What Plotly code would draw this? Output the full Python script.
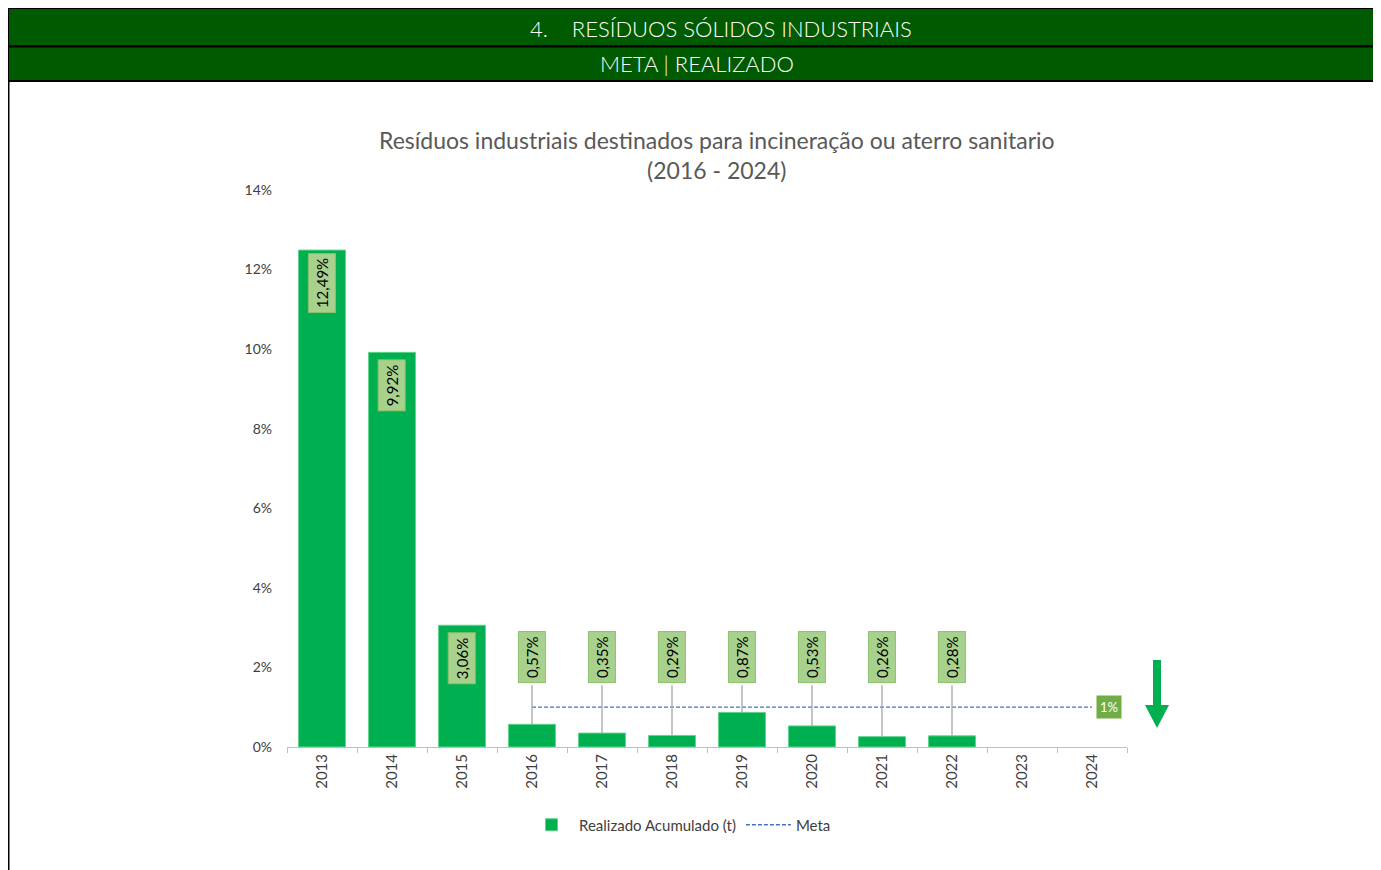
import plotly.graph_objects as go

years = ["2013", "2014", "2015", "2016", "2017", "2018", "2019", "2020", "2021", "2022", "2023", "2024"]
realizado = [0.1249, 0.0992, 0.0306, 0.0057, 0.0035, 0.0029, 0.0087, 0.0053, 0.0026, 0.0028, None, None]
meta_years = ["2016", "2017", "2018", "2019", "2020", "2021", "2022", "2023", "2024"]
meta = [0.01] * len(meta_years)

header1 = "4.    RESÍDUOS SÓLIDOS INDUSTRIAIS"
header2 = "META | REALIZADO"
title = "Resíduos industriais destinados para incineração ou aterro sanitario<br>(2016 - 2024)"

FONT = "Lato"
OFF = 8  # page body margin
W, H = 1381 - OFF, 870 - OFF
L, R, T, B = 287, 1127, 190, 747  # plot area in reference pixels


def px(x):
    return (x - L) / (R - L)


def py(y):
    return (B - y) / (B - T)


fig = go.Figure()
fig.add_trace(go.Bar(
    x=years, y=realizado, name="Realizado Acumulado (t)",
    marker=dict(color="#00B050", line=dict(color="#5FD38A", width=1)),
    width=0.67,
))
fig.add_trace(go.Scatter(
    x=meta_years, y=meta, name="Meta", mode="lines",
    line=dict(color="#4472C4", width=1.3, dash="4px,2px"),
))

annotations = []
shapes = []
label_y_outside = 0.0226
leader_top = 0.0155
for i, v in enumerate(realizado):
    if v is None:
        continue
    txt = f"{v*100:.2f}%".replace(".", ",")
    common = dict(xref="x", yref="y", x=i, text=txt, textangle=-90, showarrow=False,
                  xanchor="center", yanchor="middle",
                  font=dict(family=FONT, size=15, color="#000000"),
                  bgcolor="#A9D18E", bordercolor="#8CC06A", borderwidth=1, borderpad=4)
    if v >= 0.02:
        annotations.append(dict(y=v, yshift=-33, **common))
    else:
        shapes.append(dict(type="line", xref="x", yref="y", x0=i, x1=i,
                           y0=v, y1=leader_top, line=dict(color="#A6A6A6", width=1.3)))
        annotations.append(dict(y=label_y_outside, **common))

# meta label
annotations.append(dict(
    x=years.index(meta_years[-1]), y=meta[-1], xref="x", yref="y", text="1%", showarrow=False,
    xanchor="left", yanchor="middle", xshift=4, font=dict(family=FONT, size=13, color="#FFFFFF"),
    bgcolor="#70AD47", borderpad=3,
))

# header bands
shapes.append(dict(type="rect", xref="paper", yref="paper", x0=px(8), x1=px(1390),
                   y0=py(46.5), y1=py(8), fillcolor="#005A00", line=dict(color="#000000", width=2), layer="above"))
shapes.append(dict(type="rect", xref="paper", yref="paper", x0=px(8), x1=px(1390),
                   y0=py(81), y1=py(46.5), fillcolor="#005A00", line=dict(color="#000000", width=2), layer="above"))
shapes.append(dict(type="line", xref="paper", yref="paper", x0=px(8.5), x1=px(8.5),
                   y0=py(880), y1=py(81), line=dict(color="#000000", width=2)))

annotations.append(dict(x=px(721), y=py(28), xref="paper", yref="paper", text=header1,
                        xanchor="center", yanchor="middle",
                        showarrow=False, font=dict(family=FONT, size=22, color="#FFFFFF", weight=300)))
annotations.append(dict(x=px(697), y=py(64), xref="paper", yref="paper", text=header2,
                        xanchor="center", yanchor="middle",
                        showarrow=False, font=dict(family=FONT, size=22, color="#FFFFFF", weight=300)))
annotations.append(dict(x=px(717), y=py(155), xref="paper", yref="paper", text=title,
                        xanchor="center", yanchor="middle",
                        showarrow=False, font=dict(family=FONT, size=23, color="#595959")))

# down arrow
shapes.append(dict(type="rect", xref="paper", yref="paper", x0=px(1153), x1=px(1161),
                   y0=py(706), y1=py(660), fillcolor="#00B050", line=dict(width=0)))
shapes.append(dict(type="path", xref="paper", yref="paper",
                   path=f"M {px(1145)} {py(705)} L {px(1169)} {py(705)} L {px(1157)} {py(728)} Z",
                   fillcolor="#00B050", line=dict(width=0)))

fig.update_layout(
    width=W, height=H,
    margin=dict(l=L - OFF, r=W - (R - OFF), t=T - OFF, b=H - (B - OFF), pad=0),
    paper_bgcolor="#FFFFFF", plot_bgcolor="#FFFFFF",
    font=dict(family=FONT, size=14, color="#404040"),
    showlegend=True,
    legend=dict(orientation="h", x=px(680), y=py(825), xanchor="center", yanchor="middle",
                itemwidth=45,
                font=dict(family=FONT, size=15, color="#404040")),
    annotations=annotations, shapes=shapes,
)
fig.update_xaxes(type="category", categoryorder="array", categoryarray=years,
                 range=[-0.5, 11.5], showline=True, linecolor="#BFBFBF", linewidth=1,
                 ticks="outside", tickson="boundaries", ticklen=5, tickcolor="#BFBFBF",
                 tickangle=-90, showgrid=False, tickfont=dict(family=FONT, size=15, color="#404040"))
fig.update_yaxes(range=[0, 0.14], dtick=0.02, tickformat=".0%", showgrid=False, zeroline=False,
                 showline=False, ticks="", ticklabelstandoff=14,
                 tickfont=dict(family=FONT, size=14, color="#404040"))

fig.write_html("out.html")
